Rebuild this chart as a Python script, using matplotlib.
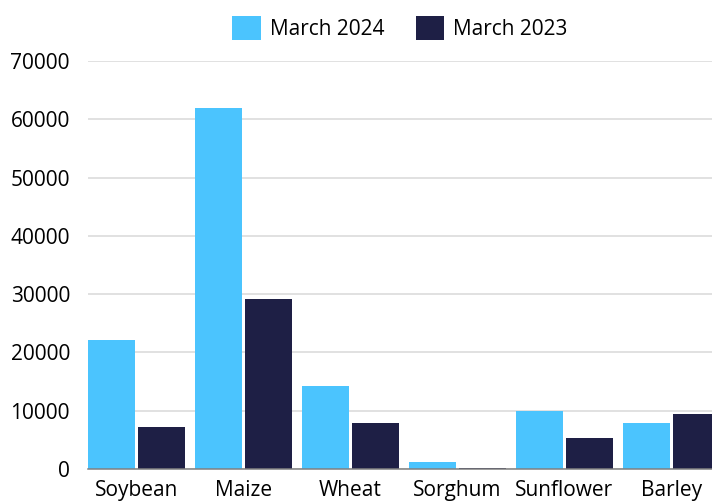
import numpy as np
import matplotlib.pyplot as plt

# ==========================================
# DATA
# ==========================================
crops = ["Soybean", "Maize", "Wheat", "Sorghum", "Sunflower", "Barley"]
march_2024 = [22100, 61900, 14200, 1200, 9900, 7900]
march_2023 = [7200, 29100, 7900, 200, 5300, 9400]
y_ticks = [0, 10000, 20000, 30000, 40000, 50000, 60000, 70000]

LIGHT = "#4BC4FE"
DARK = "#1E1F45"

plt.rcParams["font.family"] = ["Open Sans", "DejaVu Sans"]

fig = plt.figure(figsize=(7.12, 5.04), dpi=100)
ax = fig.add_axes([88 / 712, 35 / 504, 624 / 712, 408 / 504])

x = np.arange(len(crops))
w = 0.44
off = 0.234
ax.bar(x - off, march_2024, width=w, color=LIGHT, label="March 2024", zorder=3)
ax.bar(x + off, march_2023, width=w, color=DARK, label="March 2023", zorder=3)

ax.set_xlim(-0.453, 5.379)
ax.set_ylim(0, 70000)
ax.set_yticks(y_ticks)
ax.set_yticklabels([str(v) for v in y_ticks])
ax.set_xticks(x)
ax.set_xticklabels(crops)
ax.tick_params(axis="both", length=0, labelsize=15, colors="black")
ax.tick_params(axis="x", pad=8)
ax.tick_params(axis="y", pad=13)

ax.grid(axis="y", color="#d9d9d9", linewidth=1.1, zorder=0)
for s in ["top", "right", "left"]:
    ax.spines[s].set_visible(False)
ax.spines["bottom"].set_color("#808080")
ax.spines["bottom"].set_linewidth(1.1)
ax.spines["bottom"].set_zorder(4)

fig.legend(loc="center", bbox_to_anchor=(400 / 712, 1 - 28 / 504), ncol=2,
           frameon=False, fontsize=15, handlelength=1.35, handleheight=1.35,
           handletextpad=0.45, columnspacing=1.5)

fig.savefig("out.png", dpi=100)
